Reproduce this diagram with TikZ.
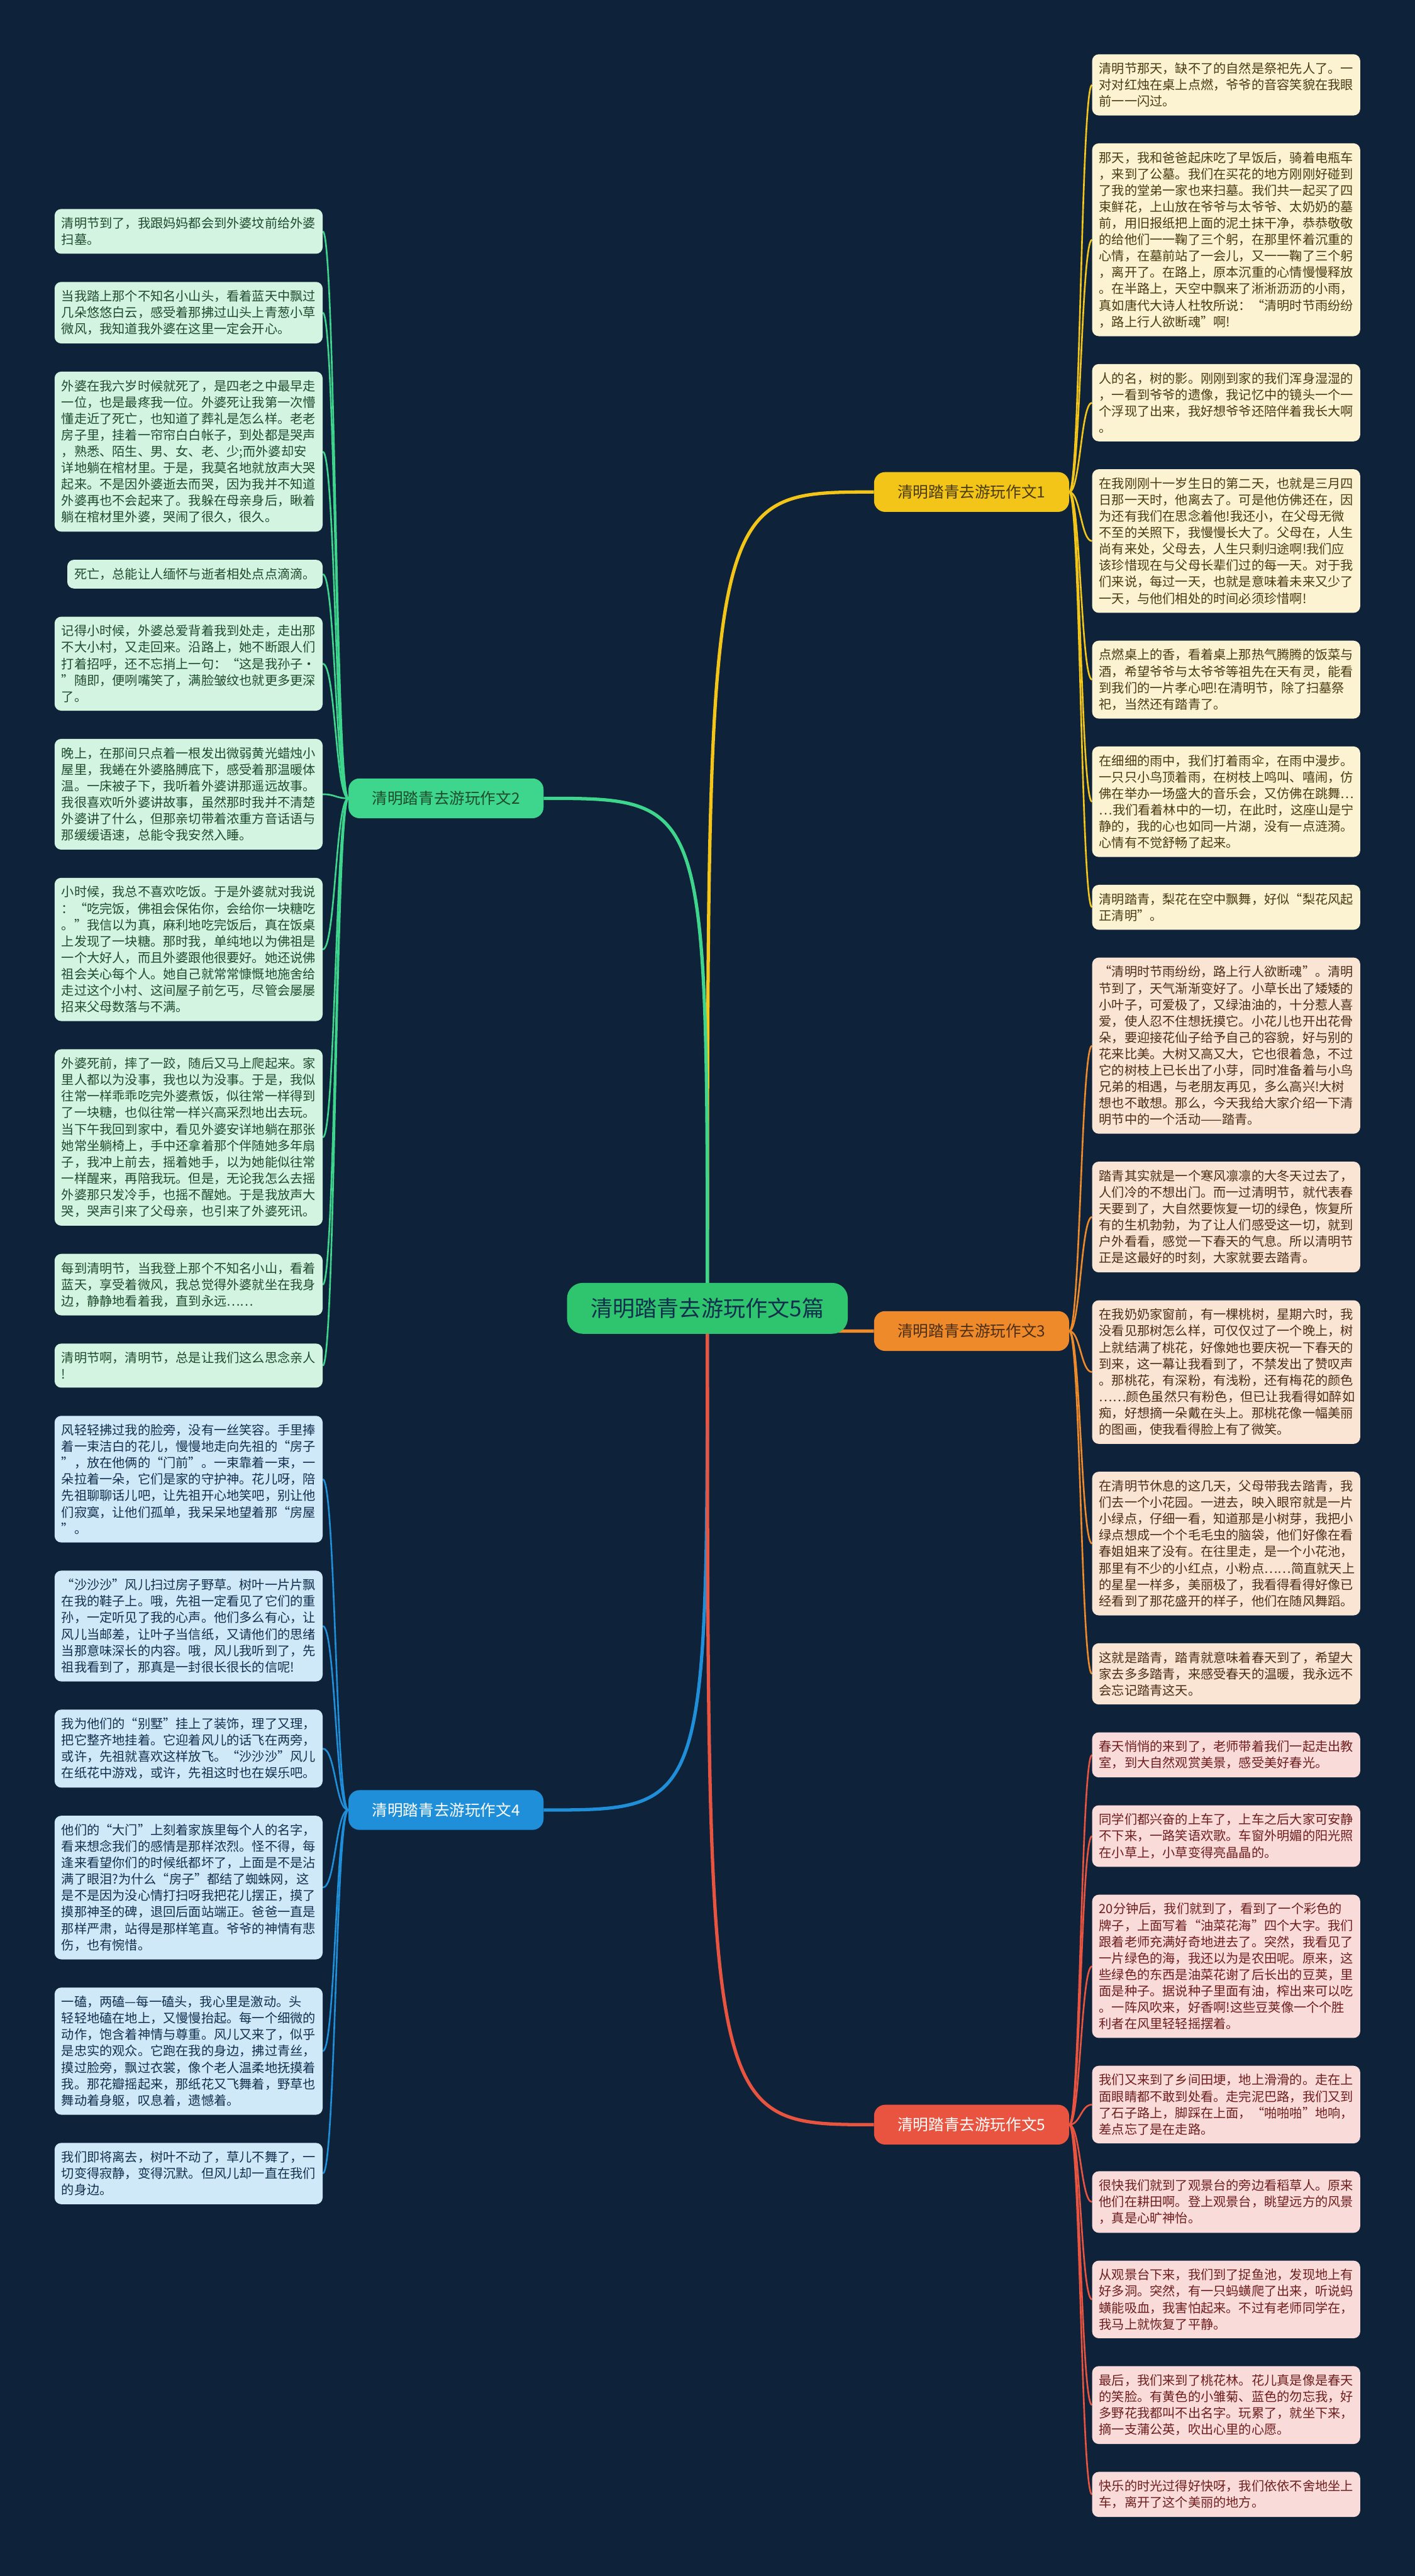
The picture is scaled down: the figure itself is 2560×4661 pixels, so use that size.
\documentclass[tikz,border=0pt]{standalone}
\usepackage{fontspec}
\setmainfont{Noto Sans CJK SC}
\usetikzlibrary{positioning,calc}

\definecolor{navy}{HTML}{0E223A}
\definecolor{hubgreen}{HTML}{2FC46E}
\definecolor{lyellow}{HTML}{F2C518}
\definecolor{lgreen}{HTML}{3DD68C}
\definecolor{lorange}{HTML}{EE8A2A}
\definecolor{lblue}{HTML}{1E8FD8}
\definecolor{lred}{HTML}{E8543F}
\definecolor{fyellow}{HTML}{FCF3D2}
\definecolor{fgreen}{HTML}{D3F4E1}
\definecolor{forange}{HTML}{FAE4D3}
\definecolor{fblue}{HTML}{CFE9F8}
\definecolor{fred}{HTML}{F9DBD9}
\definecolor{tyellow}{HTML}{4A3A10}
\definecolor{tgreen}{HTML}{1F4B2E}
\definecolor{torange}{HTML}{4C2E17}
\definecolor{tblue}{HTML}{12304E}
\definecolor{tred}{HTML}{6E1E1E}

\pgfdeclarelayer{bg}
\pgfdeclarelayer{edges}
\pgfsetlayers{bg,edges,main}

\begin{document}
\begin{tikzpicture}[x=1pt,y=1pt,
    leaf/.style={rounded corners=12pt,inner xsep=12.5pt,inner ysep=15pt,
      text width=460pt,align=left,font=\fontsize{23}{29.7}\selectfont},
    gleaf/.style={leaf,fill=fgreen,text=tgreen},
    bleaf/.style={leaf,fill=fblue,text=tblue},
    yleaf/.style={leaf,fill=fyellow,text=tyellow},
    oleaf/.style={leaf,fill=forange,text=torange},
    rleaf/.style={leaf,fill=fred,text=tred},
    branch/.style={rounded corners=20pt,minimum width=353pt,minimum height=72pt,
      font=\fontsize{28}{34}\selectfont},
    hub/.style={rounded corners=28pt,minimum width=508pt,minimum height=92pt,
      fill=hubgreen,text=tblue,font=\fontsize{40}{48}\selectfont},
    rtw/.style={line width=3pt,to path={.. controls +(20pt,0) and +(-20pt,0) .. (\tikztotarget)}},
    ltw/.style={line width=3pt,to path={.. controls +(-23pt,0) and +(23pt,0) .. (\tikztotarget)}},
    trunk/.style={line width=6pt,to path={.. controls (\tikztostart |- \tikztotarget) .. (\tikztotarget)}}]

  \useasboundingbox (0,0) rectangle (2560,-4661);

  % left column, branch 2
  \node[gleaf,anchor=north east] (L1) at (584,-378) {清明节到了，我跟妈妈都会到外婆坟前给外婆\\扫墓。};
  \node[gleaf,below=50.6pt of L1.south east,anchor=north east] (L2) {当我踏上那个不知名小山头，看着蓝天中飘过\\几朵悠悠白云，感受着那拂过山头上青葱小草\\微风，我知道我外婆在这里一定会开心。};
  \node[gleaf,below=50.6pt of L2.south east,anchor=north east] (L3) {外婆在我六岁时候就死了，是四老之中最早走\\一位，也是最疼我一位。外婆死让我第一次懵\\懂走近了死亡，也知道了葬礼是怎么样。老老\\房子里，挂着一帘帘白白帐子，到处都是哭声\\，熟悉、陌生、男、女、老、少;而外婆却安\\详地躺在棺材里。于是，我莫名地就放声大哭\\起来。不是因外婆逝去而哭，因为我并不知道\\外婆再也不会起来了。我躲在母亲身后，瞅着\\躺在棺材里外婆，哭闹了很久，很久。};
  \node[gleaf,text width=437pt,below=50.6pt of L3.south east,anchor=north east] (L4) {死亡，总能让人缅怀与逝者相处点点滴滴。};
  \node[gleaf,below=50.6pt of L4.south east,anchor=north east] (L5) {记得小时候，外婆总爱背着我到处走，走出那\\不大小村，又走回来。沿路上，她不断跟人们\\打着招呼，还不忘捎上一句：“这是我孙子·\\”随即，便咧嘴笑了，满脸皱纹也就更多更深\\了。};
  \node[gleaf,below=50.6pt of L5.south east,anchor=north east] (L6) {晚上，在那间只点着一根发出微弱黄光蜡烛小\\屋里，我蜷在外婆胳膊底下，感受着那温暖体\\温。一床被子下，我听着外婆讲那遥远故事。\\我很喜欢听外婆讲故事，虽然那时我并不清楚\\外婆讲了什么，但那亲切带着浓重方音话语与\\那缓缓语速，总能令我安然入睡。};
  \node[gleaf,below=50.6pt of L6.south east,anchor=north east] (L7) {小时候，我总不喜欢吃饭。于是外婆就对我说\\：“吃完饭，佛祖会保佑你，会给你一块糖吃\\。”我信以为真，麻利地吃完饭后，真在饭桌\\上发现了一块糖。那时我，单纯地以为佛祖是\\一个大好人，而且外婆跟他很要好。她还说佛\\祖会关心每个人。她自己就常常慷慨地施舍给\\走过这个小村、这间屋子前乞丐，尽管会屡屡\\招来父母数落与不满。};
  \node[gleaf,below=50.6pt of L7.south east,anchor=north east] (L8) {外婆死前，摔了一跤，随后又马上爬起来。家\\里人都以为没事，我也以为没事。于是，我似\\往常一样乖乖吃完外婆煮饭，似往常一样得到\\了一块糖，也似往常一样兴高采烈地出去玩。\\当下午我回到家中，看见外婆安详地躺在那张\\她常坐躺椅上，手中还拿着那个伴随她多年扇\\子，我冲上前去，摇着她手，以为她能似往常\\一样醒来，再陪我玩。但是，无论我怎么去摇\\外婆那只发冷手，也摇不醒她。于是我放声大\\哭，哭声引来了父母亲，也引来了外婆死讯。};
  \node[gleaf,below=50.6pt of L8.south east,anchor=north east] (L9) {每到清明节，当我登上那个不知名小山，看着\\蓝天，享受着微风，我总觉得外婆就坐在我身\\边，静静地看着我，直到永远……};
  \node[gleaf,below=50.6pt of L9.south east,anchor=north east] (L10) {清明节啊，清明节，总是让我们这么思念亲人\\!};

  % left column, branch 4
  \node[bleaf,below=50.6pt of L10.south east,anchor=north east] (L11) {风轻轻拂过我的脸旁，没有一丝笑容。手里捧\\着一束洁白的花儿，慢慢地走向先祖的“房子\\”，放在他俩的“门前”。一束靠着一束，一\\朵拉着一朵，它们是家的守护神。花儿呀，陪\\先祖聊聊话儿吧，让先祖开心地笑吧，别让他\\们寂寞，让他们孤单，我呆呆地望着那“房屋\\”。};
  \node[bleaf,below=50.6pt of L11.south east,anchor=north east] (L12) {“沙沙沙”风儿扫过房子野草。树叶一片片飘\\在我的鞋子上。哦，先祖一定看见了它们的重\\孙，一定听见了我的心声。他们多么有心，让\\风儿当邮差，让叶子当信纸，又请他们的思绪\\当那意味深长的内容。哦，风儿我听到了，先\\祖我看到了，那真是一封很长很长的信呢!};
  \node[bleaf,below=50.6pt of L12.south east,anchor=north east] (L13) {我为他们的“别墅”挂上了装饰，理了又理，\\把它整齐地挂着。它迎着风儿的话飞在两旁，\\或许，先祖就喜欢这样放飞。“沙沙沙”风儿\\在纸花中游戏，或许，先祖这时也在娱乐吧。};
  \node[bleaf,below=50.6pt of L13.south east,anchor=north east] (L14) {他们的“大门”上刻着家族里每个人的名字，\\看来想念我们的感情是那样浓烈。怪不得，每\\逢来看望你们的时候纸都坏了，上面是不是沾\\满了眼泪?为什么“房子”都结了蜘蛛网，这\\是不是因为没心情打扫呀我把花儿摆正，摸了\\摸那神圣的碑，退回后面站端正。爸爸一直是\\那样严肃，站得是那样笔直。爷爷的神情有悲\\伤，也有惋惜。};
  \node[bleaf,below=50.6pt of L14.south east,anchor=north east] (L15) {一磕，两磕—每一磕头，我心里是激动。头\\轻轻地磕在地上，又慢慢抬起。每一个细微的\\动作，饱含着神情与尊重。风儿又来了，似乎\\是忠实的观众。它跑在我的身边，拂过青丝，\\摸过脸旁，飘过衣裳，像个老人温柔地抚摸着\\我。那花瓣摇起来，那纸花又飞舞着，野草也\\舞动着身躯，叹息着，遗憾着。};
  \node[bleaf,below=50.6pt of L15.south east,anchor=north east] (L16) {我们即将离去，树叶不动了，草儿不舞了，一\\切变得寂静，变得沉默。但风儿却一直在我们\\的身边。};

  % right column, branch 1
  \node[yleaf,anchor=north west] (R1) at (1976,-98) {清明节那天，缺不了的自然是祭祀先人了。一\\对对红烛在桌上点燃，爷爷的音容笑貌在我眼\\前一一闪过。};
  \node[yleaf,below=50pt of R1.south west,anchor=north west] (R2) {那天，我和爸爸起床吃了早饭后，骑着电瓶车\\，来到了公墓。我们在买花的地方刚刚好碰到\\了我的堂弟一家也来扫墓。我们共一起买了四\\束鲜花，上山放在爷爷与太爷爷、太奶奶的墓\\前，用旧报纸把上面的泥土抹干净，恭恭敬敬\\的给他们一一鞠了三个躬，在那里怀着沉重的\\心情，在墓前站了一会儿，又一一鞠了三个躬\\，离开了。在路上，原本沉重的心情慢慢释放\\。在半路上，天空中飘来了淅淅沥沥的小雨，\\真如唐代大诗人杜牧所说：“清明时节雨纷纷\\，路上行人欲断魂”啊!};
  \node[yleaf,below=50pt of R2.south west,anchor=north west] (R3) {人的名，树的影。刚刚到家的我们浑身湿湿的\\，一看到爷爷的遗像，我记忆中的镜头一个一\\个浮现了出来，我好想爷爷还陪伴着我长大啊\\。};
  \node[yleaf,below=50pt of R3.south west,anchor=north west] (R4) {在我刚刚十一岁生日的第二天，也就是三月四\\日那一天时，他离去了。可是他仿佛还在，因\\为还有我们在思念着他!我还小，在父母无微\\不至的关照下，我慢慢长大了。父母在，人生\\尚有来处，父母去，人生只剩归途啊!我们应\\该珍惜现在与父母长辈们过的每一天。对于我\\们来说，每过一天，也就是意味着未来又少了\\一天，与他们相处的时间必须珍惜啊!};
  \node[yleaf,below=50pt of R4.south west,anchor=north west] (R5) {点燃桌上的香，看着桌上那热气腾腾的饭菜与\\酒，希望爷爷与太爷爷等祖先在天有灵，能看\\到我们的一片孝心吧!在清明节，除了扫墓祭\\祀，当然还有踏青了。};
  \node[yleaf,below=50pt of R5.south west,anchor=north west] (R6) {在细细的雨中，我们打着雨伞，在雨中漫步。\\一只只小鸟顶着雨，在树枝上鸣叫、嘻闹，仿\\佛在举办一场盛大的音乐会，又仿佛在跳舞…\\…我们看着林中的一切，在此时，这座山是宁\\静的，我的心也如同一片湖，没有一点涟漪。\\心情有不觉舒畅了起来。};
  \node[yleaf,below=50pt of R6.south west,anchor=north west] (R7) {清明踏青，梨花在空中飘舞，好似“梨花风起\\正清明”。};

  % right column, branch 3
  \node[oleaf,below=50pt of R7.south west,anchor=north west] (R8) {“清明时节雨纷纷，路上行人欲断魂”。清明\\节到了，天气渐渐变好了。小草长出了矮矮的\\小叶子，可爱极了，又绿油油的，十分惹人喜\\爱，使人忍不住想抚摸它。小花儿也开出花骨\\朵，要迎接花仙子给予自己的容貌，好与别的\\花来比美。大树又高又大，它也很着急，不过\\它的树枝上已长出了小芽，同时准备着与小鸟\\兄弟的相遇，与老朋友再见，多么高兴!大树\\想也不敢想。那么，今天我给大家介绍一下清\\明节中的一个活动——踏青。};
  \node[oleaf,below=50pt of R8.south west,anchor=north west] (R9) {踏青其实就是一个寒风凛凛的大冬天过去了，\\人们冷的不想出门。而一过清明节，就代表春\\天要到了，大自然要恢复一切的绿色，恢复所\\有的生机勃勃，为了让人们感受这一切，就到\\户外看看，感觉一下春天的气息。所以清明节\\正是这最好的时刻，大家就要去踏青。};
  \node[oleaf,below=50pt of R9.south west,anchor=north west] (R10) {在我奶奶家窗前，有一棵桃树，星期六时，我\\没看见那树怎么样，可仅仅过了一个晚上，树\\上就结满了桃花，好像她也要庆祝一下春天的\\到来，这一幕让我看到了，不禁发出了赞叹声\\。那桃花，有深粉，有浅粉，还有梅花的颜色\\……颜色虽然只有粉色，但已让我看得如醉如\\痴，好想摘一朵戴在头上。那桃花像一幅美丽\\的图画，使我看得脸上有了微笑。};
  \node[oleaf,below=50pt of R10.south west,anchor=north west] (R11) {在清明节休息的这几天，父母带我去踏青，我\\们去一个小花园。一进去，映入眼帘就是一片\\小绿点，仔细一看，知道那是小树芽，我把小\\绿点想成一个个毛毛虫的脑袋，他们好像在看\\春姐姐来了没有。在往里走，是一个小花池，\\那里有不少的小红点，小粉点……简直就天上\\的星星一样多，美丽极了，我看得看得好像已\\经看到了那花盛开的样子，他们在随风舞蹈。};
  \node[oleaf,below=50pt of R11.south west,anchor=north west] (R12) {这就是踏青，踏青就意味着春天到了，希望大\\家去多多踏青，来感受春天的温暖，我永远不\\会忘记踏青这天。};

  % right column, branch 5
  \node[rleaf,below=50pt of R12.south west,anchor=north west] (R13) {春天悄悄的来到了，老师带着我们一起走出教\\室，到大自然观赏美景，感受美好春光。};
  \node[rleaf,below=50pt of R13.south west,anchor=north west] (R14) {同学们都兴奋的上车了，上车之后大家可安静\\不下来，一路笑语欢歌。车窗外明媚的阳光照\\在小草上，小草变得亮晶晶的。};
  \node[rleaf,below=50pt of R14.south west,anchor=north west] (R15) {20分钟后，我们就到了，看到了一个彩色的\\牌子，上面写着“油菜花海”四个大字。我们\\跟着老师充满好奇地进去了。突然，我看见了\\一片绿色的海，我还以为是农田呢。原来，这\\些绿色的东西是油菜花谢了后长出的豆荚，里\\面是种子。据说种子里面有油，榨出来可以吃\\。一阵风吹来，好香啊!这些豆荚像一个个胜\\利者在风里轻轻摇摆着。};
  \node[rleaf,below=50pt of R15.south west,anchor=north west] (R16) {我们又来到了乡间田埂，地上滑滑的。走在上\\面眼睛都不敢到处看。走完泥巴路，我们又到\\了石子路上，脚踩在上面，“啪啪啪”地响，\\差点忘了是在走路。};
  \node[rleaf,below=50pt of R16.south west,anchor=north west] (R17) {很快我们就到了观景台的旁边看稻草人。原来\\他们在耕田啊。登上观景台，眺望远方的风景\\，真是心旷神怡。};
  \node[rleaf,below=50pt of R17.south west,anchor=north west] (R18) {从观景台下来，我们到了捉鱼池，发现地上有\\好多洞。突然，有一只蚂蟥爬了出来，听说蚂\\蟥能吸血，我害怕起来。不过有老师同学在，\\我马上就恢复了平静。};
  \node[rleaf,below=50pt of R18.south west,anchor=north west] (R19) {最后，我们来到了桃花林。花儿真是像是春天\\的笑脸。有黄色的小雏菊、蓝色的勿忘我，好\\多野花我都叫不出名字。玩累了，就坐下来，\\摘一支蒲公英，吹出心里的心愿。};
  \node[rleaf,below=50pt of R19.south west,anchor=north west] (R20) {快乐的时光过得好快呀，我们依依不舍地坐上\\车，离开了这个美丽的地方。};

  % branches and hub
  \node[branch,fill=lyellow,text=tyellow] (b1) at ($(R1.north west)!.5!(R7.south west)+(-218pt,0)$) {清明踏青去游玩作文1};
  \node[branch,fill=lgreen,text=tgreen] (b2) at ($(L1.north east)!.5!(L10.south east)+(223pt,0)$) {清明踏青去游玩作文2};
  \node[branch,fill=lorange,text=torange] (b3) at ($(R8.north west)!.5!(R12.south west)+(-218pt,0)$) {清明踏青去游玩作文3};
  \node[branch,fill=lblue,text=white] (b4) at ($(L11.north east)!.5!(L16.south east)+(223pt,0)$) {清明踏青去游玩作文4};
  \node[branch,fill=lred,text=white] (b5) at ($(R13.north west)!.5!(R20.south west)+(-218pt,0)$) {清明踏青去游玩作文5};
  \node[hub] (hub) at ($(b1)!.5!(b5)+(-478pt,0)$) {清明踏青去游玩作文5篇};

  \begin{pgfonlayer}{bg}
    \fill[navy] (0,0) rectangle (2560,-4661);
  \end{pgfonlayer}

  \begin{pgfonlayer}{edges}
    \path (hub.center) edge[trunk,draw=lyellow] (b1.west)
                       edge[trunk,draw=lgreen]  (b2.east)
                       edge[trunk,draw=lorange] (b3.west)
                       edge[trunk,draw=lblue]   (b4.east)
                       edge[trunk,draw=lred]    (b5.west);

    \path (b1.east) edge[rtw,draw=lyellow] (R1.west) edge[rtw,draw=lyellow] (R2.west)
                    edge[rtw,draw=lyellow] (R3.west) edge[rtw,draw=lyellow] (R4.west)
                    edge[rtw,draw=lyellow] (R5.west) edge[rtw,draw=lyellow] (R6.west)
                    edge[rtw,draw=lyellow] (R7.west);
    \path (b3.east) edge[rtw,draw=lorange] (R8.west)  edge[rtw,draw=lorange] (R9.west)
                    edge[rtw,draw=lorange] (R10.west) edge[rtw,draw=lorange] (R11.west)
                    edge[rtw,draw=lorange] (R12.west);
    \path (b5.east) edge[rtw,draw=lred] (R13.west) edge[rtw,draw=lred] (R14.west)
                    edge[rtw,draw=lred] (R15.west) edge[rtw,draw=lred] (R16.west)
                    edge[rtw,draw=lred] (R17.west) edge[rtw,draw=lred] (R18.west)
                    edge[rtw,draw=lred] (R19.west) edge[rtw,draw=lred] (R20.west);
    \path (b2.west) edge[ltw,draw=lgreen] (L1.east) edge[ltw,draw=lgreen] (L2.east)
                    edge[ltw,draw=lgreen] (L3.east) edge[ltw,draw=lgreen] (L4.east)
                    edge[ltw,draw=lgreen] (L5.east) edge[ltw,draw=lgreen] (L6.east)
                    edge[ltw,draw=lgreen] (L7.east) edge[ltw,draw=lgreen] (L8.east)
                    edge[ltw,draw=lgreen] (L9.east) edge[ltw,draw=lgreen] (L10.east);
    \path (b4.west) edge[ltw,draw=lblue] (L11.east) edge[ltw,draw=lblue] (L12.east)
                    edge[ltw,draw=lblue] (L13.east) edge[ltw,draw=lblue] (L14.east)
                    edge[ltw,draw=lblue] (L15.east) edge[ltw,draw=lblue] (L16.east);
  \end{pgfonlayer}
\end{tikzpicture}
\end{document}
